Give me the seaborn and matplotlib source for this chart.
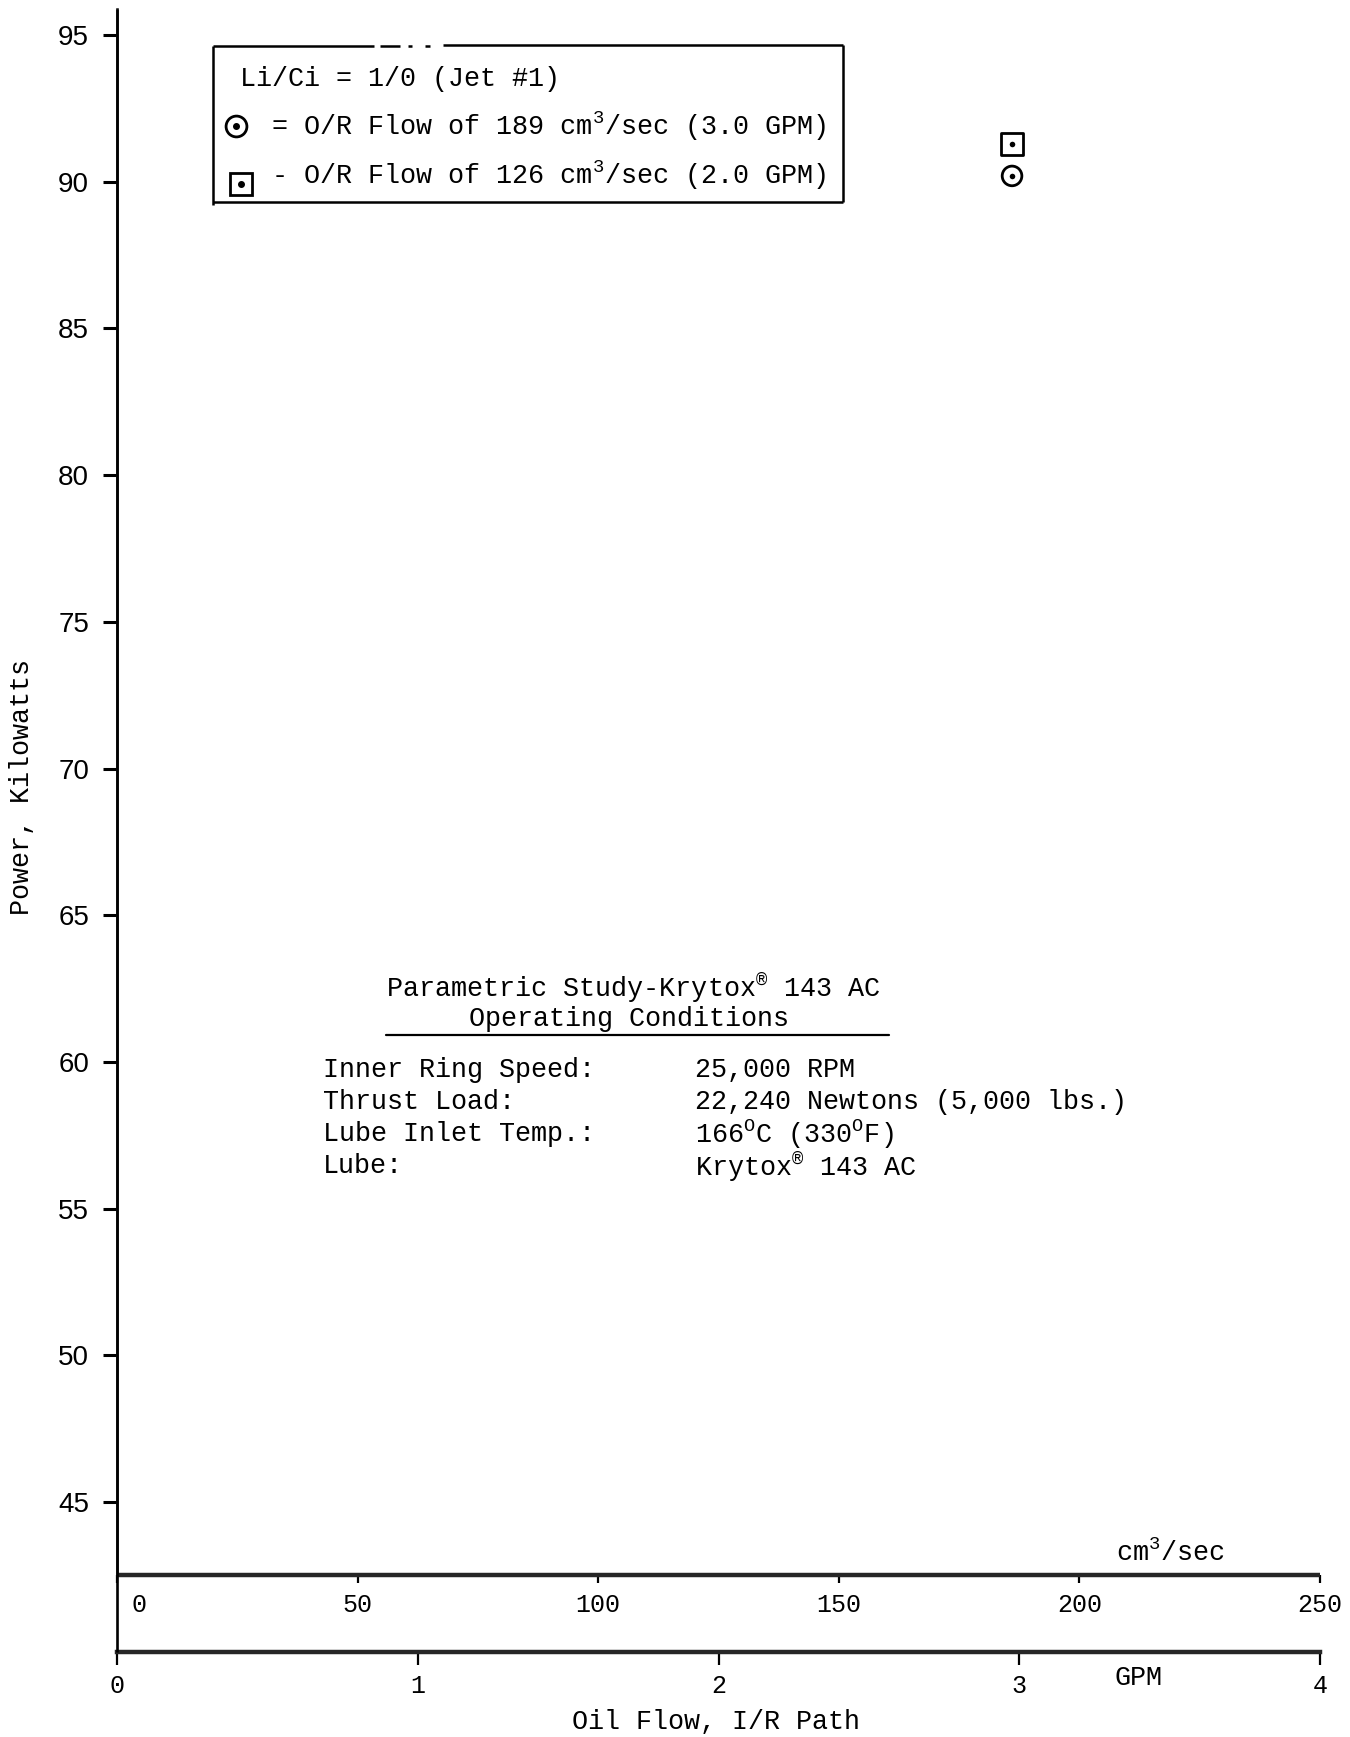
import matplotlib
matplotlib.use("Agg")
import matplotlib.pyplot as plt
from matplotlib.lines import Line2D
import seaborn as sns
import pandas as pd

# Measured operating points (I/R path flow vs. power loss)
flow_cm3_sec = [186.0, 186.0]
power_kw = [90.2, 91.3]
or_flow_label = ["189 cm$^{3}$/sec (3.0 GPM)", "126 cm$^{3}$/sec (2.0 GPM)"]
or_marker = ["o", "s"]
or_marker_size = [200, 250]

# Axis ticks
power_ticks = [45, 50, 55, 60, 65, 70, 75, 80, 85, 90, 95]
flow_ticks_cm3 = [0, 50, 100, 150, 200, 250]
flow_ticks_gpm = [0, 1, 2, 3, 4]

# Text blocks
legend_header = "Li/Ci = 1/0 (Jet #1)"
study_title = "Parametric Study-Krytox$^{\u00ae}$ 143 AC"
study_subtitle = "Operating Conditions"
condition_names = ["Inner Ring Speed:", "Thrust Load:", "Lube Inlet Temp.:", "Lube:"]
condition_values = [
    "25,000 RPM",
    "22,240 Newtons (5,000 lbs.)",
    "166$^{\\mathrm{O}}$C (330$^{\\mathrm{O}}$F)",
    "Krytox$^{\u00ae}$ 143 AC",
]

sns.set_style("ticks")
MONO = "Liberation Mono"
SANS = "Liberation Sans"
FS = 19.3
plt.rcParams["font.family"] = [MONO, "DejaVu Sans"]
plt.rcParams["mathtext.fontset"] = "custom"
plt.rcParams["mathtext.rm"] = MONO
plt.rcParams["mathtext.it"] = MONO
plt.rcParams["mathtext.bf"] = MONO
plt.rcParams["text.color"] = "black"

W, H = 1350, 1737
fig = plt.figure(figsize=(W / 100, H / 100), dpi=100)
fig.patch.set_facecolor("white")


def fx(px):
    return px / W


def fy(py):
    return 1 - py / H


# main axes: left spine = power, bottom spine = flow in cm3/sec
ax_left, ax_right, ax_top, ax_bot = 117, 1320, 9, 1575
ax = fig.add_axes([fx(ax_left), fy(ax_bot), (ax_right - ax_left) / W, (ax_bot - ax_top) / H])
ax.set_facecolor("white")
ax.set_xlim(0, 250)
ax.set_ylim(42.51, 95.89)

df = pd.DataFrame({"flow": flow_cm3_sec, "power": power_kw, "series": or_flow_label,
                   "marker": or_marker, "size": or_marker_size})
for _, row in df.iterrows():
    sns.scatterplot(x=[row["flow"]], y=[row["power"]], marker=row["marker"], s=row["size"],
                    facecolor="none", edgecolor="black", linewidth=2.0, ax=ax, legend=False,
                    zorder=3)
sns.scatterplot(data=df, x="flow", y="power", marker="o", s=16, color="black",
                edgecolor="black", linewidth=0, ax=ax, legend=False, zorder=4)

for side in ["top", "right"]:
    ax.spines[side].set_visible(False)
ax.spines["left"].set_linewidth(1.9)
ax.spines["bottom"].set_linewidth(3.2)
ax.spines["bottom"].set_capstyle("butt")

# extend the power axis line down to the GPM scale
gpm_loc = -(1652 - ax_bot) / (ax_bot - ax_top)
ax.plot([0, 0], [gpm_loc, 1.0], transform=ax.transAxes, color="black", lw=1.9,
        clip_on=False, solid_capstyle="butt", zorder=5)

ax.set_yticks(power_ticks)
ax.set_yticklabels([str(v) for v in power_ticks], fontfamily=SANS, fontsize=20)
ax.tick_params(axis="y", direction="out", length=10, width=2.2, pad=10, colors="black")

ax.set_xticks(flow_ticks_cm3)
ax.set_xticklabels([" " + str(v) if v == 0 else str(v) for v in flow_ticks_cm3],
                   fontfamily=MONO, fontsize=18)
ax.tick_params(axis="x", direction="out", length=6, width=1.6, pad=7, colors="black")
ax.get_xticklabels()[0].set_horizontalalignment("left")

ax.set_xlabel("")
ax.set_ylabel("")

# secondary flow scale in GPM
sec = ax.secondary_xaxis(gpm_loc, functions=(lambda v: v / 62.5, lambda g: g * 62.5))
sec.set_xticks(flow_ticks_gpm)
sec.set_xticklabels([str(v) for v in flow_ticks_gpm], fontfamily=MONO, fontsize=18)
sec.tick_params(axis="x", direction="out", length=9, width=1.6, pad=7, colors="black")
sec.spines["bottom"].set_linewidth(3.2)

# axis titles
fig.text(fx(22), fy(787), "Power, Kilowatts", rotation=90, ha="center", va="center",
         fontsize=FS)
fig.text(fx(716), fy(1722), "Oil Flow, I/R Path", ha="center", va="center", fontsize=FS)
fig.text(fx(1170), fy(1553), "cm$^{3}$/sec", ha="center", va="center", fontsize=FS)
fig.text(fx(1139), fy(1678), "GPM", ha="center", va="center", fontsize=FS)

# legend box (top edge partly broken)
box = dict(color="black", lw=1.8, transform=fig.transFigure, solid_capstyle="butt")
segments = [
    ((213, 213), (46, 205)),
    ((213, 843), (202, 202)),
    ((843, 843), (45, 202)),
    ((213, 374), (46, 46)),
    ((380, 400), (46, 46)),
    ((408, 412), (46, 46)),
    ((425, 430), (46, 46)),
    ((443, 843), (45, 45)),
]
for xs, ys in segments:
    fig.add_artist(Line2D([fx(x) for x in xs], [fy(y) for y in ys], **box))

fig.text(fx(240), fy(79), legend_header, ha="left", va="center", fontsize=FS)
legend_rows = [(126, 236, 126, "= O/R Flow of "), (175, 241, 184, "- O/R Flow of ")]
for (ty, mx, my, prefix), mk, lab in zip(legend_rows, or_marker, or_flow_label):
    fig.add_artist(Line2D([fx(mx)], [fy(my)], marker=mk, markersize=15 if mk == "o" else 16,
                          mfc="none", mec="black", mew=2.0, transform=fig.transFigure))
    fig.add_artist(Line2D([fx(mx)], [fy(my)], marker="o", markersize=4, mfc="black",
                          mec="black", transform=fig.transFigure))
    fig.text(fx(271), fy(ty), prefix + lab, ha="left", va="center", fontsize=FS)

# operating conditions block
fig.text(fx(386), fy(987), study_title, ha="left", va="center", fontsize=FS)
fig.text(fx(629), fy(1019), study_subtitle, ha="center", va="center", fontsize=FS)
fig.add_artist(Line2D([fx(386), fx(889)], [fy(1035), fy(1035)], color="black", lw=1.6,
                      transform=fig.transFigure))
for i, (name, value) in enumerate(zip(condition_names, condition_values)):
    y = 1070 + i * 32
    fig.text(fx(323), fy(y), name, ha="left", va="center", fontsize=FS)
    fig.text(fx(695), fy(y), value, ha="left", va="center", fontsize=FS)

fig.savefig("out.png", dpi=100, facecolor="white")
